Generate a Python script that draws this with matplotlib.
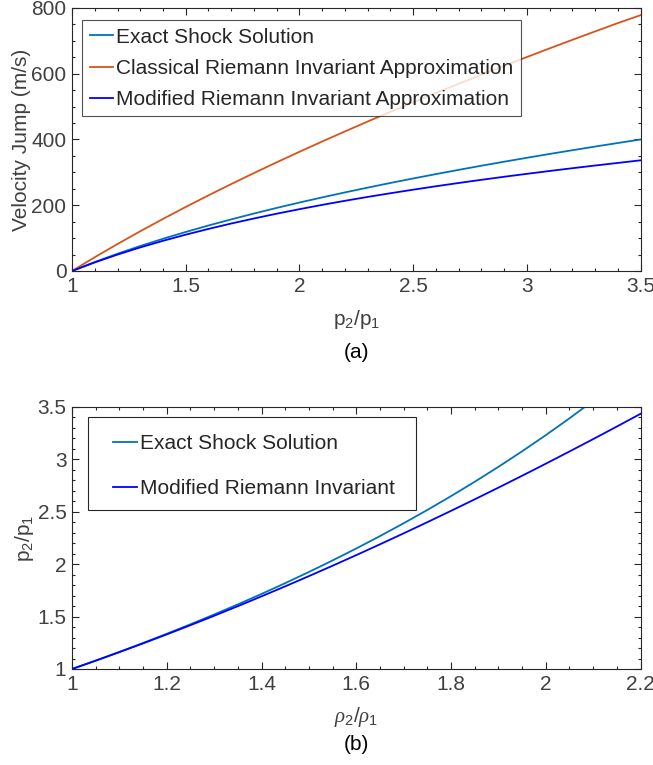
import numpy as np
import matplotlib
matplotlib.use('Agg')
from matplotlib import pyplot as plt
from matplotlib.ticker import MultipleLocator, FuncFormatter
from matplotlib.patches import Rectangle

plt.rcParams['font.family'] = ['Liberation Sans', 'DejaVu Sans']
plt.rcParams['mathtext.fontset'] = 'custom'
plt.rcParams['mathtext.rm'] = 'Liberation Sans'
plt.rcParams['mathtext.it'] = 'Liberation Serif:italic'

# (a) velocity jump vs pressure ratio
p_ratio = [1.0, 1.1, 1.2, 1.3, 1.4, 1.5, 1.6, 1.7, 1.8, 1.9, 2.0, 2.1, 2.2,
           2.3, 2.4, 2.5, 2.6, 2.7, 2.8, 2.9, 3.0, 3.1, 3.2, 3.3, 3.4, 3.5]
u_exact = [0, 27.2, 52.4, 75.9, 97.9, 118.6, 138.3, 156.9, 174.7, 191.8, 208.1,
           223.8, 238.9, 253.5, 267.7, 281.3, 294.6, 307.5, 320.1, 332.3, 344.2,
           355.9, 367.2, 378.4, 389.2, 399.9]
u_classical = [0, 41.8, 82.0, 120.8, 158.3, 194.7, 230.0, 264.3, 297.8, 330.5,
               362.5, 393.8, 424.4, 454.5, 483.9, 512.9, 541.3, 569.3, 596.9,
               624.0, 650.7, 677.0, 703.0, 728.6, 753.9, 778.0]
u_modified = [0, 26.0, 49.8, 71.6, 91.7, 110.4, 127.9, 144.3, 159.6, 174.2, 187.9,
              201.0, 213.4, 225.2, 236.4, 247.2, 257.6, 267.6, 277.2, 286.5,
              295.4, 304.1, 312.5, 320.7, 328.6, 336.5]

# (b) pressure ratio vs density ratio
rho_ratio = [1.0, 1.05, 1.1, 1.15, 1.2, 1.25, 1.3, 1.35, 1.4, 1.45, 1.5, 1.55,
             1.6, 1.65, 1.7, 1.75, 1.8, 1.85, 1.9, 1.95, 2.0, 2.05, 2.1, 2.15, 2.2]
p_exact = [1.0, 1.0803, 1.1629, 1.2481, 1.3359, 1.4265, 1.5200, 1.6164, 1.7161,
           1.8191, 1.9256, 2.0358, 2.1499, 2.2680, 2.3905, 2.5176, 2.6494,
           2.7864, 2.9288, 3.0769, 3.2310, 3.3916, 3.5591, 3.7340, 3.9166]
p_modified = [1.0, 1.0794, 1.1609, 1.2445, 1.3302, 1.4180, 1.5077, 1.5994,
              1.6931, 1.7887, 1.8861, 1.9854, 2.0866, 2.1896, 2.2943, 2.4008,
              2.5090, 2.6189, 2.7305, 2.8438, 2.9588, 3.0754, 3.1934, 3.3134,
              3.4348]

c_exact = '#0072BD'
c_classical = '#D95319'
c_modified = '#0000FF'
txt_col = '#404040'
edge_col = '#262626'
fs = 15

fig = plt.figure(figsize=(6.53, 7.65), dpi=100)
ax1 = fig.add_axes([0.1103, 0.6458, 0.8706, 0.3438])
ax2 = fig.add_axes([0.1103, 0.1255, 0.8706, 0.3425])

plain = FuncFormatter(lambda v, pos: f'{v:g}')


def style_axes(ax):
    ax.tick_params(which='both', direction='in', top=True, right=True,
                   colors=edge_col, labelcolor=txt_col, labelsize=fs, width=0.8)
    ax.tick_params(which='major', length=5, pad=4)
    ax.tick_params(which='minor', length=2.5)
    ax.xaxis.set_major_formatter(plain)
    ax.yaxis.set_major_formatter(plain)
    for s in ax.spines.values():
        s.set_color(edge_col)
        s.set_linewidth(0.8)


# top panel
ax1.plot(p_ratio, u_exact, color=c_exact, lw=1.3, label='Exact Shock Solution')
ax1.plot(p_ratio, u_classical, color=c_classical, lw=1.3,
         label='Classical Riemann Invariant Approximation')
ax1.plot(p_ratio, u_modified, color=c_modified, lw=1.3,
         label='Modified Riemann Invariant Approximation')
ax1.set_xlim(1, 3.5)
ax1.set_ylim(0, 800)
ax1.xaxis.set_major_locator(MultipleLocator(0.5))
ax1.xaxis.set_minor_locator(MultipleLocator(0.1))
ax1.yaxis.set_major_locator(MultipleLocator(200))
ax1.yaxis.set_minor_locator(MultipleLocator(50))
style_axes(ax1)
ax1.set_ylabel('Velocity Jump (m/s)', fontsize=fs, color=txt_col, labelpad=0)
ax1.set_xlabel(r'p$_2$/p$_1$', fontsize=fs, color=txt_col, labelpad=9)
leg1 = ax1.legend(loc='upper left', bbox_to_anchor=(0.0, 0.993), fontsize=fs,
                  frameon=True, fancybox=False, edgecolor=edge_col,
                  handlelength=1.1, handletextpad=0.15, labelspacing=0.58,
                  borderpad=0.36, borderaxespad=0.5)
leg1.get_frame().set_linewidth(0.8)
for t in leg1.get_texts():
    t.set_color(edge_col)

# bottom panel
ax2.plot(rho_ratio, p_exact, color=c_exact, lw=1.3, label='Exact Shock Solution')
ax2.plot(rho_ratio, p_modified, color=c_modified, lw=1.3,
         label='Modified Riemann Invariant')
ax2.set_xlim(1, 2.2)
ax2.set_ylim(1, 3.5)
ax2.xaxis.set_major_locator(MultipleLocator(0.2))
ax2.xaxis.set_minor_locator(MultipleLocator(0.05))
ax2.yaxis.set_major_locator(MultipleLocator(0.5))
ax2.yaxis.set_minor_locator(MultipleLocator(0.1))
style_axes(ax2)
ax2.set_ylabel(r'p$_2$/p$_1$', fontsize=fs, color=txt_col, labelpad=1)
ax2.set_xlabel(r'$\rho_2/\rho_1$', fontsize=fs, color=txt_col, labelpad=8)
leg2 = ax2.legend(loc='upper left', bbox_to_anchor=(0.072, 0.896), fontsize=fs,
                  frameon=False, handlelength=1.15, handletextpad=0.15,
                  labelspacing=1.25, borderpad=0.0, borderaxespad=0.0)
for t in leg2.get_texts():
    t.set_color(edge_col)
ax2.add_patch(Rectangle((0.0281, 0.6069), 0.577, 0.355, transform=ax2.transAxes,
                        fill=True, facecolor='white', edgecolor=edge_col,
                        lw=0.8, zorder=4))
leg2.set_zorder(5)

fig.text(0.5455, 1 - 353 / 765, '(a)', fontsize=fs, color='black', ha='center', va='center')
fig.text(0.5455, 1 - 745 / 765, '(b)', fontsize=fs, color='black', ha='center', va='center')

fig.savefig('out.png', dpi=100)
